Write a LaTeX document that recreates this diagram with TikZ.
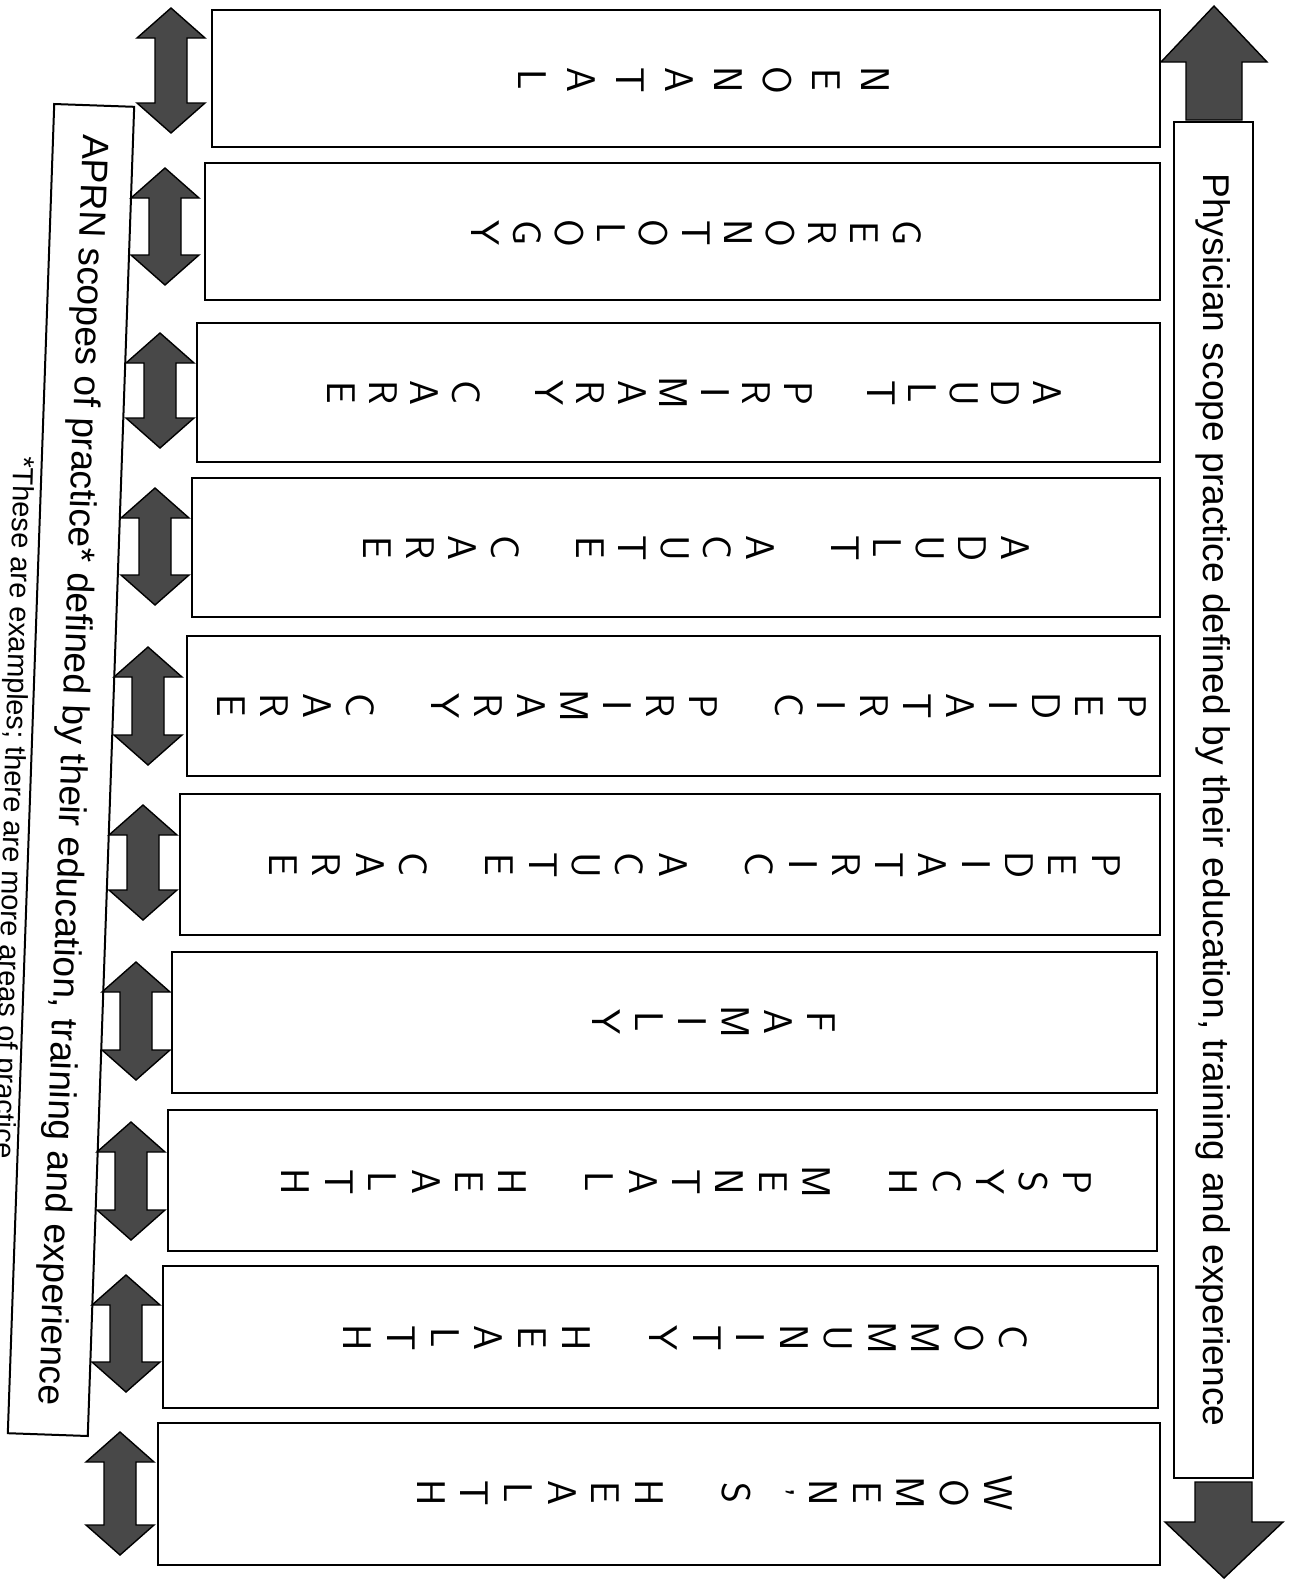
\documentclass[tikz,border=0pt]{standalone}
\usepackage{fontspec}
\setmainfont{Liberation Sans}
\usetikzlibrary{calc}
\definecolor{arrowgrey}{RGB}{72,72,72}

\tikzset{
  areabox/.style={draw=black,line width=1pt},
  stackletter/.style={font=\sffamily\fontsize{20}{20}\selectfont,rotate=-90,inner sep=0pt},
  scopebox/.style={draw=black,line width=1pt,inner sep=0pt,align=center,font=\fontsize{18.6}{22}\selectfont},
  bigarrow/.style={fill=arrowgrey,draw=black,line width=0.7pt,line join=miter},
}

\begin{document}
\begin{tikzpicture}[x=0.5pt,y=-0.5pt]
  \clip (0,0) rectangle (1299,1580);
  % practice areas, letters stacked, first letter on the right
  \foreach \n/\l/\t/\r/\b/\ty/\xr/\st/\word in {
    1/212/10/1160/147/80/875/48.9/{N,E,O,N,A,T,A,L},
    2/205/163/1160/300/233/907/42.2/{G,E,R,O,N,T,O,L,O,G,Y},
    3/197/323/1160/462/393/1047/41.5/{A,D,U,L,T,{},P,R,I,M,A,R,Y,{},C,A,R,E},
    4/192/478/1160/617/548/1015/42.5/{A,D,U,L,T,{},A,C,U,T,E,{},C,A,R,E},
    5/187/636/1160/776/706/1132/42.9/{P,E,D,I,A,T,R,I,C,{},P,R,I,M,A,R,Y,{},C,A,R,E},
    6/180/794/1160/935/865/1106/43.3/{P,E,D,I,A,T,R,I,C,{},A,C,U,T,E,{},C,A,R,E},
    7/172/952/1157/1093/1022/821/43/{F,A,M,I,L,Y},
    8/168/1110/1157/1251/1182/1077/43.4/{P,S,Y,C,H,{},M,E,N,T,A,L,{},H,E,A,L,T,H},
    9/163/1266/1158/1408/1338/1013/43.7/{C,O,M,M,U,N,I,T,Y,{},H,E,A,L,T,H},
    10/158/1423/1160/1565/1493/998/43.6/{W,O,M,E,N,',S,{},H,E,A,L,T,H}}{
    \draw[areabox] (\l,\t) rectangle (\r,\b);
    \foreach \c [count=\i from 0] in \word
      \node[stackletter] (l\n-\i) at (\xr-\i*\st,\ty) {\c};
  }

  % two-headed arrows on the left
  \foreach \k/\c/\t/\b in {1/171/8/133,2/165/168/285,3/160/333/448,4/155/488/605,5/148/647/765,
      6/143/805/920,7/136/962/1080,8/131/1122/1240,9/126/1275/1392,10/120/1432/1555}
    \draw[bigarrow] (\c,\t) -- (\c+34,\t+30) -- (\c+16,\t+30) -- (\c+16,\b-30) -- (\c+34,\b-30)
      -- (\c,\b) -- (\c-34,\b-30) -- (\c-16,\b-30) -- (\c-16,\t+30) -- (\c-34,\t+30) -- cycle;

  % physician side
  \draw[bigarrow] (1214,6) -- (1267,62) -- (1242,62) -- (1242,120) -- (1186,120) -- (1186,62) -- (1161,62) -- cycle;
  \draw[bigarrow] (1224,1578) -- (1283,1522) -- (1252,1522) -- (1252,1482) -- (1195,1482) -- (1195,1522) -- (1165,1522) -- cycle;
  \node[scopebox,rotate=-90,minimum width=678pt,minimum height=39.5pt] (physician) at (1213.5,800)
    {Physician scope practice defined by their education, training and experience};

  % APRN side
  \node[scopebox,rotate=-92,minimum width=665pt,minimum height=40pt] (aprn) at (71,770)
    {APRN scopes of practice* defined by their education, training and experience};
  \node[rotate=-91.6,inner sep=0pt,font=\fontsize{14.5}{16}\selectfont] (note) at (12,808)
    {*These are examples; there are more areas of practice};
\end{tikzpicture}
\end{document}
